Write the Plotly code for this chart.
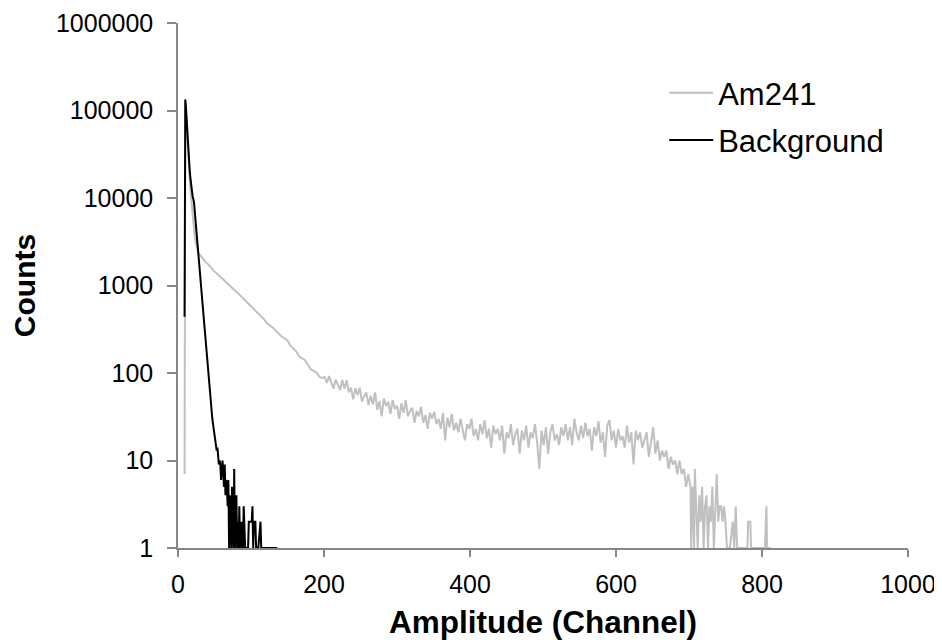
import plotly.graph_objects as go

# ---------------- data ----------------
# Am241 spectrum: peak region, smooth tail, noisy plateau, and cut-off tail
am_ch_peak = [9, 10, 11, 12, 13, 14, 15, 16, 17, 18, 19, 20, 21, 22, 23, 24, 25, 26, 27, 28]
am_cnt_peak = [7, 128000, 95000, 62000, 42000, 30000, 22000, 16500, 12500, 9800,
               7800, 6200, 5000, 4200, 3600, 3200, 2900, 2650, 2480, 2350]

am_ch_tail = [30, 34, 38, 42, 46, 50, 54, 58, 62, 66, 70, 74, 78, 82, 86, 90, 94, 98,
              102, 106, 110, 114, 118, 122, 126, 130, 134, 138, 142, 146, 150, 154,
              158, 162, 166, 170, 174, 178, 182, 186, 190, 194, 198]
am_cnt_tail = [2240, 2010, 1850, 1720, 1560, 1440, 1350, 1260, 1170, 1090, 1010, 950,
               880, 820, 760, 700, 650, 590, 560, 520, 480, 440, 410, 370, 350, 330,
               305, 280, 262, 248, 235, 205, 188, 176, 155, 148, 140, 124, 110, 106,
               101, 90, 88]

am_ch_plateau = [
    201, 204, 207, 210, 213, 216, 219, 222, 225, 228,
    231, 234, 237, 240, 243, 246, 249, 252, 255, 258,
    261, 264, 267, 270, 273, 276, 279, 282, 285, 288,
    291, 294, 297, 300, 303, 306, 309, 312, 315, 318,
    321, 324, 327, 330, 333, 336, 339, 342, 345, 348,
    351, 354, 357, 360, 363, 366, 369, 372, 375, 378,
    381, 384, 387, 390, 393, 396, 399, 402, 405, 408,
    411, 414, 417, 420, 423, 426, 429, 432, 435, 438,
    441, 444, 447, 450, 453, 456, 459, 462, 465, 468,
    471, 474, 477, 480, 483, 486, 489, 492, 495, 498,
    501, 504, 507, 510, 513, 516, 519, 522, 525, 528,
    531, 534, 537, 540, 543, 546, 549, 552, 555, 558,
    561, 564, 567, 570, 573, 576, 579, 582, 585, 588,
    591, 594, 597, 600, 603, 606, 609, 612, 615, 618,
    621, 624, 627, 630, 633, 636, 639, 642, 645, 648,
    651, 654, 657, 660, 663, 666, 669, 672, 675, 678,
    681, 684, 687, 690, 693, 696, 699, 702]
am_cnt_plateau = [
    90, 77, 92, 76, 66, 84, 74, 64, 83, 66,
    83, 60, 68, 50, 67, 56, 68, 47, 54, 60,
    43, 55, 44, 60, 38, 48, 32, 51, 42, 47,
    34, 49, 39, 42, 30, 45, 35, 49, 32, 37,
    40, 27, 37, 32, 41, 27, 33, 23, 35, 30,
    36, 26, 30, 23, 35, 17, 31, 24, 34, 22,
    27, 21, 30, 22, 17, 26, 23, 30, 19, 23,
    17, 26, 20, 29, 18, 23, 14, 25, 20, 23,
    17, 25, 12, 21, 18, 26, 15, 20, 23, 12,
    22, 17, 25, 14, 21, 18, 26, 16, 8, 22,
    15, 24, 12, 21, 26, 17, 20, 15, 24, 19,
    26, 17, 24, 15, 30, 21, 17, 25, 18, 27,
    19, 23, 13, 24, 19, 28, 16, 21, 11, 25,
    29, 17, 22, 14, 23, 17, 19, 14, 25, 16,
    21, 9, 22, 17, 21, 14, 17, 21, 11, 17,
    24, 12, 17, 10, 13, 11, 13, 8, 11, 9,
    10, 7, 10, 7, 8, 5, 7, 5]

am_ch_end = [703, 705, 707, 708, 710, 712, 714, 716, 718, 720, 722, 724, 726, 728,
             730, 732, 734, 736, 738, 740, 742, 744, 746, 748, 750, 752, 756, 760,
             762, 764, 766, 770, 780, 781, 784, 785, 795, 804, 806, 807, 812]
am_cnt_end = [1, 5, 1, 8, 3, 1, 4, 2, 5, 1, 3, 4, 1, 3, 2, 5, 1, 3, 7, 2, 3, 3, 2, 3,
              2, 1, 1, 2, 1, 3, 1, 1, 1, 2, 2, 1, 1, 1, 3, 1, 1]

# Background spectrum
bg_ch = [9, 10, 11, 12, 13, 14, 15, 16, 17, 18, 19, 20, 21, 22, 23, 24, 25, 26, 27, 28,
         29, 30, 31, 32, 33, 34, 35, 36, 37, 38, 39, 40, 41, 42, 43, 44, 45, 46, 47, 48,
         49, 50, 51, 52, 53, 54, 55, 56, 57, 58, 59, 60, 61, 62, 63, 64, 65, 66, 67, 68,
         69, 70, 71, 72, 73, 74, 75, 76, 77, 78, 79, 80, 81, 82, 83, 84, 85, 86, 87, 88,
         89, 90, 91, 92, 93, 94, 95, 96, 97, 98, 99, 100, 101, 102, 103, 104, 105, 106,
         107, 108, 109, 110, 113, 114, 120, 136]
bg_cnt = [440, 134000, 105000, 72000, 50000, 36000, 27000, 21000, 17000, 14000, 12000,
          10500, 9700, 8800, 7000, 5500, 4200, 3300, 2600, 2200,
          1700, 1300, 1000, 760, 580, 500, 440, 360, 290, 230, 170, 130, 100, 78, 66, 55,
          44, 37, 30, 26,
          22, 19, 18, 15, 13, 14, 11, 9, 10, 9, 6, 8, 10, 7, 5, 9, 4, 6, 5, 3,
          6, 1, 4, 3, 1, 5, 2, 1, 8, 1, 3, 4, 1, 2, 1, 3, 1, 1, 2, 1,
          1, 3, 1, 1, 1, 1, 1, 1, 2, 2, 2, 2, 2, 3, 1, 2, 2, 2,
          1, 1, 1, 1, 2, 1, 1, 1]

x_ticks = [0, 200, 400, 600, 800, 1000]
y_ticks = [1, 10, 100, 1000, 10000, 100000, 1000000]
y_tick_text = ["1", "10", "100", "1000", "10000", "100000", "1000000"]

am_ch = am_ch_peak + am_ch_tail + am_ch_plateau + am_ch_end
am_cnt = am_cnt_peak + am_cnt_tail + am_cnt_plateau + am_cnt_end

# ---------------- figure ----------------
FONT = "Liberation Sans, Arial, sans-serif"
AXIS_COLOR = "#868686"

fig = go.Figure()
fig.add_trace(go.Scatter(x=am_ch, y=am_cnt, mode="lines", name="Am241",
                         legendgroup="a",
                         line=dict(color="#c0c0c0", width=2)))
fig.add_trace(go.Scatter(x=bg_ch, y=bg_cnt, mode="lines", name="Background",
                         legendgroup="b",
                         line=dict(color="#000000", width=2)))

# the page body has an 8px margin, so the figure is 8px smaller each way
fig.update_layout(
    width=934, height=632,
    template="none",
    paper_bgcolor="white", plot_bgcolor="white",
    margin=dict(l=170, r=34, t=15, b=92, autoexpand=False),
    font=dict(family=FONT, color="#000000"),
    showlegend=True,
    legend=dict(x=0.666, y=0.918, xanchor="left", yanchor="top",
                bgcolor="rgba(0,0,0,0)", borderwidth=0,
                font=dict(size=31, family=FONT, color="#000000"),
                itemwidth=44, tracegroupgap=4, traceorder="grouped"),
    xaxis=dict(range=[0, 1000], tickvals=x_ticks, showgrid=False, zeroline=False,
               showline=True, linecolor=AXIS_COLOR, linewidth=1.5,
               ticks="outside", ticklen=7, tickwidth=1.5, tickcolor=AXIS_COLOR,
               tickfont=dict(size=25, family=FONT, color="#000000"),
               ticklabelstandoff=6,
               title=dict(text="Amplitude (Channel)", standoff=14,
                          font=dict(size=31.5, family=FONT, weight="bold",
                                    color="#000000"))),
    yaxis=dict(type="log", range=[0, 6], tickvals=y_ticks, ticktext=y_tick_text,
               showgrid=False, zeroline=False,
               showline=True, linecolor=AXIS_COLOR, linewidth=1.5,
               ticks="outside", ticklen=9, tickwidth=1.5, tickcolor=AXIS_COLOR,
               tickfont=dict(size=25, family=FONT, color="#000000"),
               ticklabelstandoff=9,
               title=dict(text="Counts", standoff=17,
                          font=dict(size=30, family=FONT, weight="bold",
                                    color="#000000"))),
)

fig.write_html("out.html")
